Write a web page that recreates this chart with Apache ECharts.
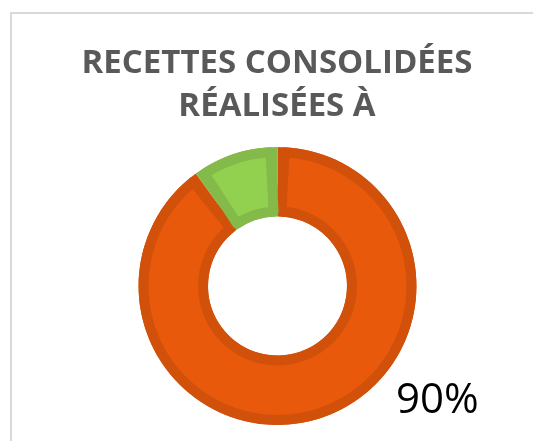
<!DOCTYPE html>
<html>
<head>
<meta charset="utf-8">
<script src="https://cdn.jsdelivr.net/npm/echarts@6/dist/echarts.min.js"></script>
<style>
  html, body { margin: 0; padding: 0; background: #fff; }
  #chart { width: 533px; height: 441px; }
</style>
</head>
<body>
<div id="chart"></div>
<script>
'use strict'
var titleLines = ['RECETTES CONSOLIDÉES', 'RÉALISÉES À'];
var sliceNames = ['Réalisé', 'Reste'];
var sliceValues = [90, 10];
var fillColors = ['#E8590C', '#92D050'];
var edgeColors = ['#D1510B', '#84BA49'];

var total = sliceValues.reduce(function (a, b) { return a + b; }, 0);
var pctText = Math.round(sliceValues[0] / total * 100) + '%';

function sliceData(colors, withEdge) {
  return sliceValues.map(function (v, i) {
    var style = { color: colors[i] };
    if (withEdge) {
      style.borderColor = edgeColors[i];
      style.borderWidth = 10;
      style.borderJoin = 'round';
    }
    return { name: sliceNames[i], value: v, itemStyle: style };
  });
}

var chart = echarts.init(document.getElementById('chart'));
chart.setOption({
  animation: false,
  graphic: [
    {
      type: 'polyline',
      shape: { points: [[11, 441], [11, 13], [533, 13]] },
      style: { stroke: '#D9D9D9', lineWidth: 2, fill: null }
    }
  ],
  title: [
    {
      text: titleLines.join('\n'),
      left: 272,
      top: 37,
      textAlign: 'center',
      textStyle: {
        fontFamily: 'Open Sans',
        fontWeight: 700,
        fontSize: 33,
        lineHeight: 43,
        color: '#595959'
      }
    },
    {
      text: pctText,
      left: 391,
      top: 375,
      textStyle: {
        fontFamily: 'Open Sans',
        fontWeight: 400,
        fontSize: 42,
        color: '#000'
      }
    }
  ],
  series: [
    {
      type: 'pie',
      center: [277.5, 286],
      radius: [69.5, 139],
      startAngle: 90,
      silent: true,
      label: { show: false },
      labelLine: { show: false },
      data: sliceData(edgeColors, false)
    },
    {
      type: 'pie',
      center: [277.5, 286],
      radius: [74.5, 134],
      startAngle: 90,
      padAngle: 6,
      silent: true,
      label: { show: false },
      labelLine: { show: false },
      data: sliceData(fillColors, true)
    }
  ]
});
</script>
</body>
</html>
